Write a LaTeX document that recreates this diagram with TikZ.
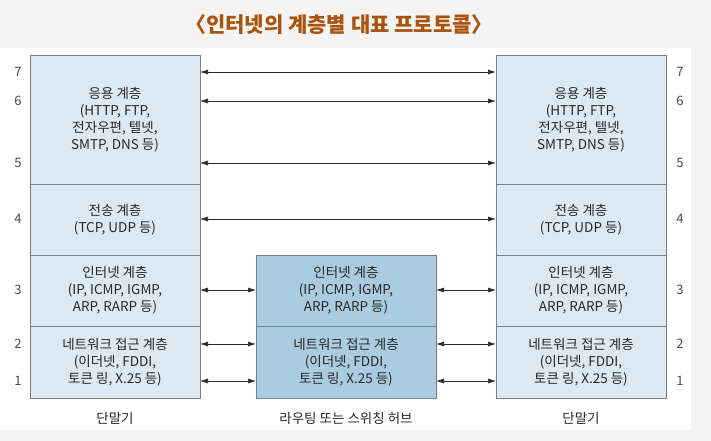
\documentclass[tikz,border=0pt]{standalone}
\usepackage{fontspec}
\setmainfont{Noto Sans CJK KR}
\usepackage{xcolor}
\usetikzlibrary{arrows.meta,positioning}
\definecolor{titlebrown}{RGB}{168,84,12}
\definecolor{layerfill}{RGB}{221,233,242}
\definecolor{hubfill}{RGB}{170,204,224}
\definecolor{layerline}{RGB}{120,128,136}
\definecolor{textdark}{RGB}{40,40,40}
\definecolor{pagegray}{RGB}{244,244,244}

\begin{document}
\begin{tikzpicture}[
    x=1pt, y=-1pt,
    every node/.style={font=\fontsize{13.5}{17}\selectfont, align=center, text=textdark},
    layerbox/.style={rectangle, draw=layerline, fill=layerfill, line width=0.7pt, minimum width=170pt, inner sep=0pt, outer sep=0pt},
    hubbox/.style={layerbox, fill=hubfill, minimum width=180pt},
    num/.style={font=\fontsize{13}{14}\selectfont, text=textdark!85},
    caption/.style={font=\fontsize{13.5}{14}\selectfont},
    arr/.style={{Latex[length=8pt,width=5pt]}-{Latex[length=8pt,width=5pt]}, line width=0.7pt, draw=textdark}
]

% page and panel
\useasboundingbox (0,0) rectangle (711,441);
\fill[pagegray] (0,0) rectangle (711,441);
\fill[white] (0,48) rectangle (691,430);

\node[font=\fontsize{21}{24}\selectfont\bfseries, text=titlebrown] (title) at (339,25) {〈인터넷의 계층별 대표 프로토콜〉};

% left terminal
\node[layerbox, minimum height=129pt] (appL) at (115,119.5) {응용 계층\\(HTTP, FTP,\\전자우편, 텔넷,\\SMTP, DNS 등)};
\node[layerbox, minimum height=71pt, below=0pt of appL] (tranL) {전송 계층\\(TCP, UDP 등)};
\node[layerbox, minimum height=71pt, below=0pt of tranL] (inetL) {인터넷 계층\\(IP, ICMP, IGMP,\\ARP, RARP 등)};
\node[layerbox, minimum height=72pt, below=0pt of inetL] (netL) {네트워크 접근 계층\\(이더넷, FDDI,\\토큰 링, X.25 등)};

% right terminal
\node[layerbox, minimum height=129pt] (appR) at (581,119.5) {응용 계층\\(HTTP, FTP,\\전자우편, 텔넷,\\SMTP, DNS 등)};
\node[layerbox, minimum height=71pt, below=0pt of appR] (tranR) {전송 계층\\(TCP, UDP 등)};
\node[layerbox, minimum height=71pt, below=0pt of tranR] (inetR) {인터넷 계층\\(IP, ICMP, IGMP,\\ARP, RARP 등)};
\node[layerbox, minimum height=72pt, below=0pt of inetR] (netR) {네트워크 접근 계층\\(이더넷, FDDI,\\토큰 링, X.25 등)};

% hub in the middle
\node[hubbox, minimum height=71pt] (inetM) at (346,290.5) {인터넷 계층\\(IP, ICMP, IGMP,\\ARP, RARP 등)};
\node[hubbox, minimum height=72pt, below=0pt of inetM] (netM) {네트워크 접근 계층\\(이더넷, FDDI,\\토큰 링, X.25 등)};

% layer numbers
\foreach \n/\ypos in {7/72, 6/101, 5/163, 4/219, 3/290, 2/344, 1/381} {
    \node[num] (l\n) at (18,\ypos) {\n};
    \node[num] (r\n) at (680,\ypos) {\n};
}

% captions
\node[caption] (termL) at (115,418) {단말기};
\node[caption] (hub) at (346,418) {라우팅 또는 스위칭 허브};
\node[caption] (termR) at (581,418) {단말기};

% peer connections
\foreach \n in {7,6,5} {
    \draw[arr] (l\n -| appL.east) -- (r\n -| appR.west);
}
\draw[arr] (l4 -| tranL.east) -- (r4 -| tranR.west);
\draw[arr] (l3 -| inetL.east) -- (l3 -| inetM.west);
\draw[arr] (r3 -| inetM.east) -- (r3 -| inetR.west);
\foreach \n in {2,1} {
    \draw[arr] (l\n -| netL.east) -- (l\n -| netM.west);
    \draw[arr] (r\n -| netM.east) -- (r\n -| netR.west);
}

\end{tikzpicture}
\end{document}
